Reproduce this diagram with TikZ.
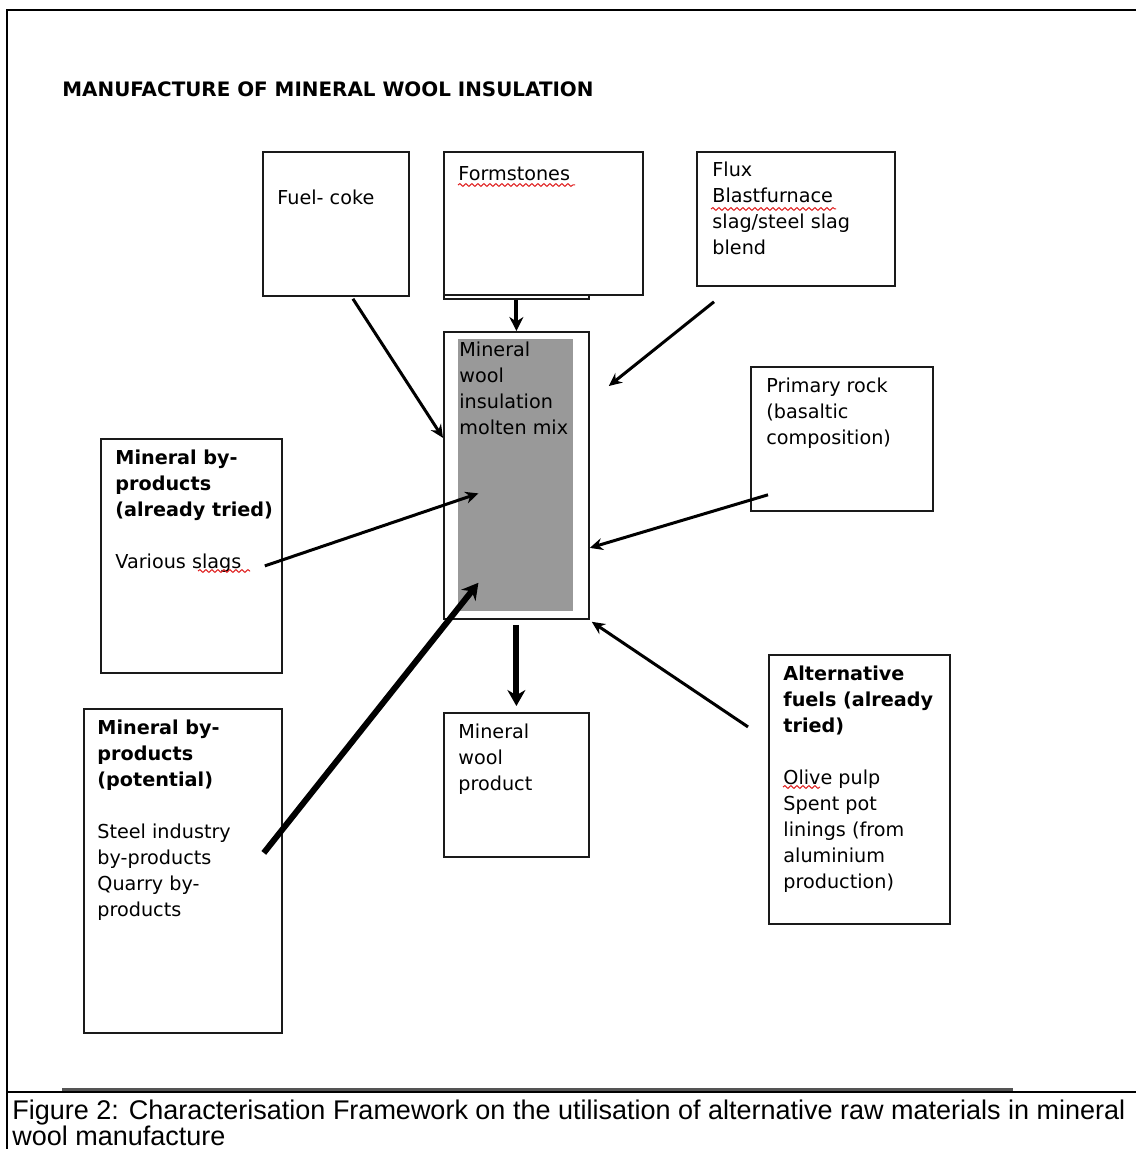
\documentclass[tikz,border=0pt]{standalone}
\usepackage{fontspec}
\setmainfont{DejaVu Sans}
\newfontfamily\capfont{Liberation Sans}
\usetikzlibrary{positioning, arrows.meta, decorations.pathmorphing}
\definecolor{boxDraw}{HTML}{1A1A1A}
\definecolor{mixFill}{HTML}{999999}
\definecolor{ruleGray}{HTML}{555555}
\definecolor{spellRed}{HTML}{E02020}

\begin{document}
\begin{tikzpicture}[
  x=0.5pt, y=-0.5pt,
  box/.style={rectangle, draw=boxDraw, line width=0.9pt, fill=white,
              inner sep=0pt, anchor=north west},
  txt/.style={anchor=north west, inner sep=0pt, align=left,
              font=\fontsize{9.6}{13}\selectfont},
  arr/.style={-{Stealth[length=6.5pt,width=6pt]}, line width=1.5pt},
  arrthick/.style={-{Stealth[length=7pt,width=7pt]}, line width=2pt},
  arrheavy/.style={-{Stealth[length=8pt,width=9pt]}, line width=3pt},
  spell/.style={draw=spellRed, line width=0.5pt,
                decorate, decoration={snake, segment length=3pt, amplitude=0.7pt}},
]
\useasboundingbox (0,0) rectangle (1136,1149);

% ---- Frame and title ----
\draw[line width=1pt] (7,1149) -- (7,10) -- (1136,10);
\node[anchor=base west, inner sep=0pt, font=\bfseries\fontsize{9.95}{12}\selectfont]
     (title) at (62,97) {MANUFACTURE OF MINERAL WOOL INSULATION};

% ---- Top row: fuel, formstones, flux ----
\node[box, minimum width=73pt, minimum height=72pt] (coke) at (262,151) {};
\node[txt] (coketxt) at (277,190) {Fuel- coke};

\node[box, minimum width=72.5pt, minimum height=69pt] (formback) at (443,160) {};
\node[box, minimum width=99.5pt, minimum height=71.5pt] (formst) at (443,151) {};
\node[txt] (formtxt) at (458,166) {Formstones};

\node[box, minimum width=99pt, minimum height=67pt] (flux) at (696,151) {};
\node[txt] (fluxtxt) at (712,162) {Flux\\Blastfurnace\\slag/steel slag\\blend};

% ---- Centre: molten mix ----
\node[box, minimum width=72.5pt, minimum height=143.5pt] (mix) at (443,331) {};
\node[rectangle, fill=mixFill, inner sep=0pt, anchor=north west,
      minimum width=57.5pt, minimum height=136pt] (mixfill) at (458,339) {};
\node[txt] (mixtxt) at (459,342) {Mineral\\wool\\insulation\\molten mix};

% ---- Side inputs ----
\node[box, minimum width=90.5pt, minimum height=117pt] (tried) at (100,438) {};
\node[txt] (triedtxt) at (115,450)
     {\textbf{Mineral by-}\\\textbf{products}\\\textbf{(already tried)}\\[13pt]Various slags};

\node[box, minimum width=91pt, minimum height=72pt] (rock) at (750,366) {};
\node[txt] (rocktxt) at (766,378) {Primary rock\\(basaltic\\composition)};

\node[box, minimum width=99pt, minimum height=162pt] (potential) at (83,708) {};
\node[txt] (pottxt) at (97,720)
     {\textbf{Mineral by-}\\\textbf{products}\\\textbf{(potential)}\\[13pt]Steel industry\\by-products\\Quarry by-\\products};

\node[box, minimum width=90.5pt, minimum height=134.5pt] (altfuel) at (768,654) {};
\node[txt] (alttxt) at (783,666)
     {\textbf{Alternative}\\\textbf{fuels (already}\\\textbf{tried)}\\[13pt]Olive pulp\\Spent pot\\linings (from\\aluminium\\production)};

% ---- Output ----
\node[box, minimum width=72.5pt, minimum height=72pt] (product) at (443,712) {};
\node[txt] (prodtxt) at (458,724) {Mineral\\wool\\product};

% ---- Spell-check marks ----
\draw[spell] (458,185) -- (575,185);
\draw[spell] (711,209) -- (836,209);
\draw[spell] (198,571) -- (250,571);
\draw[spell] (783,787) -- (820,787);

% ---- Arrows into the mix ----
\draw[arr]      ([shift={(17,2)}]coke.south) -- ([shift={(0,-37.5)}]mix.west);
\draw[arrthick] (formback.south) -- (mix.north);
\draw[arr]      ([shift={(18,15)}]flux.south west) -- ([shift={(19,55)}]mix.north east);
\draw[arr]      ([shift={(-18,10)}]tried.east) -- ([shift={(-37.5,18)}]mixfill.center);
\draw[arr]      ([shift={(18,-17)}]rock.south west) -- ([shift={(0,72.5)}]mix.east);
\draw[arrheavy] ([shift={(-19,-18)}]potential.east) -- ([shift={(-37.5,-29)}]mixfill.south);
\draw[arr]      ([shift={(-20,-62.5)}]altfuel.west) -- ([shift={(2,2)}]mix.south east);

% ---- Arrow out to the product ----
\draw[arrheavy] ([shift={(0,5)}]mix.south) -- ([shift={(0,-6)}]product.north);

% ---- Caption ----
\draw[line width=1.5pt, draw=ruleGray] (62,1089) -- (1013,1089);
\draw[line width=1pt] (7,1092) -- (1136,1092);
\node[anchor=north west, inner sep=0pt, align=left, font=\capfont\fontsize{13.5}{13}\selectfont]
     (caption) at (12,1100)
     {Figure 2: Characterisation Framework on the utilisation of alternative raw materials in mineral\\wool manufacture};

\end{tikzpicture}
\end{document}
